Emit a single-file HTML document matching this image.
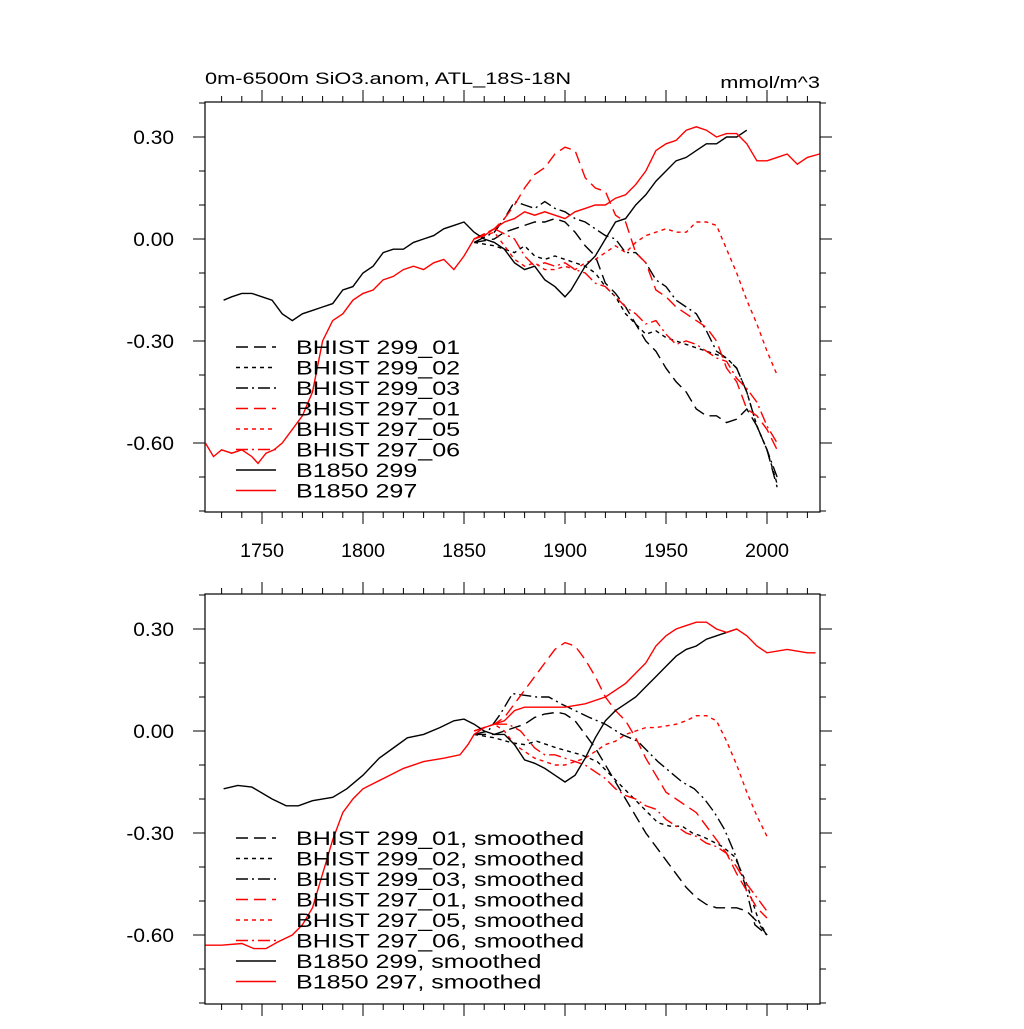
<!DOCTYPE html>
<html><head><meta charset="utf-8"><style>
body{margin:0;background:#fff}
svg text{font-family:"Liberation Sans",sans-serif}
</style></head><body>
<svg id="c" width="1024" height="1024" viewBox="0 0 1024 1024" xmlns="http://www.w3.org/2000/svg">
<text id="ttl" x="205" y="84" font-size="17">0m-6500m SiO3.anom, ATL_18S-18N</text>
<text id="unit" x="820" y="88" font-size="17" text-anchor="end">mmol/m^3</text>
</svg>
<script>
const xTicks=[1750,1800,1850,1900,1950,2000];
const yTicks=[0.3,0,-0.3,-0.6];
const yTickLabels=["0.30","0.00","-0.30","-0.60"];
const rawB299=[[1731,-0.18],[1735,-0.17],[1740,-0.16],[1745,-0.16],[1750,-0.17],[1755,-0.18],[1760,-0.22],[1765,-0.24],[1770,-0.22],[1775,-0.21],[1780,-0.2],[1785,-0.19],[1790,-0.15],[1795,-0.14],[1800,-0.1],[1805,-0.08],[1810,-0.04],[1815,-0.03],[1820,-0.03],[1825,-0.01],[1830,0.0],[1835,0.01],[1840,0.03],[1845,0.04],[1850,0.05],[1855,0.02],[1860,0.0],[1865,-0.01],[1870,-0.03],[1875,-0.07],[1880,-0.09],[1885,-0.08],[1890,-0.12],[1895,-0.14],[1900,-0.17],[1903,-0.15],[1910,-0.08],[1915,-0.05],[1920,0.0],[1925,0.05],[1930,0.06],[1935,0.1],[1940,0.13],[1945,0.17],[1950,0.2],[1955,0.23],[1960,0.24],[1965,0.26],[1970,0.28],[1975,0.28],[1980,0.3],[1985,0.3],[1990,0.32]];
const rawB297=[[1722,-0.6],[1726,-0.64],[1730,-0.62],[1735,-0.63],[1740,-0.62],[1745,-0.64],[1748,-0.66],[1752,-0.63],[1756,-0.62],[1760,-0.6],[1765,-0.56],[1770,-0.52],[1775,-0.45],[1780,-0.3],[1785,-0.24],[1790,-0.22],[1795,-0.18],[1800,-0.16],[1805,-0.15],[1810,-0.12],[1815,-0.11],[1820,-0.09],[1825,-0.08],[1830,-0.09],[1835,-0.07],[1840,-0.06],[1845,-0.09],[1850,-0.05],[1855,0.0],[1860,0.01],[1865,0.03],[1870,0.05],[1875,0.06],[1880,0.08],[1885,0.07],[1890,0.08],[1895,0.07],[1900,0.06],[1905,0.08],[1910,0.09],[1915,0.1],[1920,0.1],[1925,0.12],[1930,0.13],[1935,0.16],[1940,0.2],[1945,0.26],[1950,0.28],[1955,0.29],[1960,0.32],[1965,0.33],[1970,0.32],[1975,0.3],[1980,0.31],[1985,0.31],[1990,0.28],[1995,0.23],[2000,0.23],[2005,0.24],[2010,0.25],[2015,0.22],[2020,0.24],[2026,0.25]];
const raw297_01=[[1855,0.0],[1865,0.03],[1870,0.06],[1875,0.1],[1880,0.15],[1885,0.19],[1890,0.21],[1895,0.25],[1900,0.27],[1905,0.26],[1910,0.18],[1915,0.15],[1920,0.14],[1925,0.07],[1930,0.05],[1935,-0.04],[1940,-0.07],[1945,-0.15],[1950,-0.17],[1955,-0.2],[1960,-0.22],[1965,-0.24],[1970,-0.26],[1975,-0.3],[1980,-0.38],[1985,-0.42],[1990,-0.5],[1995,-0.52],[2000,-0.56],[2005,-0.62]];
const raw297_05=[[1855,0.0],[1865,0.02],[1870,-0.02],[1875,-0.06],[1880,-0.08],[1885,-0.07],[1890,-0.09],[1895,-0.09],[1900,-0.08],[1905,-0.09],[1910,-0.07],[1915,-0.06],[1920,-0.04],[1925,-0.02],[1930,-0.04],[1935,-0.01],[1940,0.01],[1945,0.02],[1950,0.03],[1955,0.02],[1960,0.02],[1965,0.05],[1970,0.05],[1975,0.04],[1980,-0.03],[1985,-0.1],[1990,-0.18],[1995,-0.25],[2000,-0.33],[2005,-0.4]];
const raw297_06=[[1855,0.0],[1865,0.03],[1875,0.0],[1880,-0.05],[1885,-0.08],[1890,-0.07],[1895,-0.08],[1900,-0.07],[1905,-0.09],[1910,-0.1],[1915,-0.13],[1920,-0.14],[1925,-0.17],[1930,-0.2],[1935,-0.22],[1940,-0.25],[1945,-0.24],[1950,-0.28],[1955,-0.31],[1960,-0.3],[1965,-0.31],[1970,-0.33],[1975,-0.35],[1980,-0.36],[1985,-0.41],[1990,-0.44],[1995,-0.48],[2000,-0.55],[2005,-0.6]];
const raw299_01=[[1855,-0.01],[1865,0.0],[1870,0.02],[1875,0.03],[1880,0.04],[1885,0.05],[1890,0.05],[1895,0.06],[1900,0.05],[1905,0.02],[1910,-0.02],[1915,-0.05],[1920,-0.13],[1925,-0.16],[1930,-0.2],[1935,-0.25],[1940,-0.3],[1945,-0.33],[1950,-0.38],[1955,-0.42],[1960,-0.45],[1965,-0.5],[1970,-0.52],[1975,-0.52],[1980,-0.54],[1985,-0.53],[1990,-0.5],[1995,-0.55],[2000,-0.62],[2005,-0.73]];
const raw299_02=[[1855,-0.01],[1865,-0.02],[1870,-0.03],[1875,-0.04],[1880,-0.02],[1885,-0.05],[1890,-0.06],[1895,-0.05],[1900,-0.06],[1905,-0.07],[1910,-0.08],[1915,-0.1],[1920,-0.14],[1925,-0.17],[1930,-0.22],[1935,-0.25],[1940,-0.28],[1945,-0.27],[1950,-0.29],[1955,-0.3],[1960,-0.31],[1965,-0.32],[1970,-0.33],[1975,-0.34],[1980,-0.35],[1985,-0.38],[1990,-0.45],[1995,-0.55],[2000,-0.62],[2005,-0.72]];
const raw299_03=[[1855,-0.01],[1865,0.02],[1870,0.06],[1875,0.11],[1880,0.1],[1885,0.09],[1890,0.11],[1895,0.09],[1900,0.08],[1905,0.06],[1910,0.05],[1915,0.03],[1920,0.01],[1925,0.0],[1930,-0.04],[1935,-0.04],[1940,-0.07],[1945,-0.12],[1950,-0.14],[1955,-0.18],[1960,-0.2],[1965,-0.22],[1970,-0.27],[1975,-0.33],[1980,-0.35],[1985,-0.38],[1990,-0.45],[1995,-0.55],[2000,-0.62],[2005,-0.7]];
const smB299=[[1731,-0.17],[1738,-0.16],[1745,-0.165],[1755,-0.2],[1762,-0.22],[1768,-0.22],[1775,-0.205],[1785,-0.195],[1792,-0.17],[1800,-0.13],[1808,-0.08],[1815,-0.05],[1822,-0.02],[1830,-0.01],[1838,0.01],[1845,0.03],[1850,0.035],[1855,0.02],[1860,0.0],[1865,-0.01],[1870,-0.01],[1875,-0.04],[1880,-0.085],[1885,-0.095],[1890,-0.11],[1895,-0.13],[1900,-0.15],[1905,-0.13],[1910,-0.08],[1915,-0.02],[1920,0.03],[1925,0.06],[1930,0.08],[1935,0.1],[1940,0.13],[1945,0.16],[1950,0.19],[1955,0.22],[1960,0.24],[1965,0.25],[1970,0.27],[1975,0.28],[1980,0.29],[1985,0.3]];
const smB297=[[1722,-0.63],[1730,-0.63],[1740,-0.625],[1746,-0.64],[1752,-0.64],[1758,-0.62],[1765,-0.6],[1770,-0.57],[1775,-0.52],[1780,-0.42],[1785,-0.32],[1790,-0.24],[1795,-0.2],[1800,-0.17],[1810,-0.14],[1820,-0.11],[1830,-0.09],[1840,-0.08],[1848,-0.07],[1852,-0.04],[1855,-0.01],[1860,0.01],[1870,0.03],[1875,0.06],[1880,0.07],[1890,0.07],[1900,0.07],[1910,0.08],[1920,0.1],[1930,0.14],[1940,0.2],[1945,0.25],[1950,0.28],[1955,0.3],[1960,0.31],[1965,0.32],[1970,0.32],[1975,0.3],[1980,0.29],[1985,0.3],[1990,0.28],[1995,0.25],[2000,0.23],[2010,0.24],[2020,0.23],[2024,0.23]];
const sm297_01=[[1855,0.0],[1865,0.02],[1870,0.04],[1875,0.08],[1880,0.12],[1885,0.16],[1890,0.2],[1895,0.24],[1900,0.26],[1905,0.25],[1910,0.21],[1915,0.16],[1920,0.1],[1925,0.06],[1930,0.03],[1935,-0.02],[1940,-0.08],[1945,-0.13],[1950,-0.18],[1955,-0.2],[1960,-0.22],[1965,-0.24],[1970,-0.28],[1975,-0.32],[1980,-0.36],[1985,-0.42],[1990,-0.47],[1995,-0.52],[2000,-0.55]];
const sm297_05=[[1855,0.0],[1865,0.02],[1870,0.0],[1875,-0.04],[1880,-0.06],[1885,-0.08],[1890,-0.09],[1895,-0.1],[1900,-0.1],[1905,-0.09],[1910,-0.08],[1915,-0.06],[1920,-0.04],[1925,-0.03],[1930,-0.01],[1935,0.0],[1940,0.01],[1945,0.01],[1950,0.015],[1955,0.02],[1960,0.03],[1965,0.045],[1970,0.045],[1975,0.03],[1980,-0.03],[1985,-0.1],[1990,-0.18],[1995,-0.25],[2000,-0.31]];
const sm297_06=[[1855,0.0],[1865,0.02],[1872,0.02],[1878,0.0],[1885,-0.05],[1890,-0.07],[1895,-0.07],[1900,-0.08],[1905,-0.09],[1910,-0.1],[1915,-0.12],[1920,-0.14],[1925,-0.17],[1930,-0.19],[1935,-0.2],[1940,-0.22],[1945,-0.23],[1950,-0.26],[1955,-0.28],[1960,-0.3],[1965,-0.31],[1970,-0.33],[1975,-0.34],[1980,-0.36],[1985,-0.4],[1990,-0.45],[1995,-0.49],[2000,-0.53]];
const sm299_01=[[1855,-0.01],[1865,-0.01],[1870,0.0],[1875,0.01],[1880,0.02],[1885,0.04],[1890,0.05],[1896,0.055],[1900,0.05],[1905,0.03],[1910,-0.01],[1915,-0.05],[1920,-0.1],[1925,-0.15],[1930,-0.2],[1935,-0.25],[1940,-0.3],[1945,-0.34],[1950,-0.38],[1955,-0.42],[1960,-0.46],[1965,-0.49],[1970,-0.51],[1975,-0.52],[1980,-0.52],[1985,-0.52],[1990,-0.53],[1995,-0.56],[2000,-0.6]];
const sm299_02=[[1855,-0.01],[1865,-0.02],[1874,-0.035],[1880,-0.04],[1886,-0.03],[1896,-0.05],[1902,-0.06],[1908,-0.07],[1916,-0.09],[1921,-0.12],[1926,-0.15],[1931,-0.18],[1936,-0.21],[1941,-0.24],[1946,-0.27],[1952,-0.28],[1958,-0.28],[1963,-0.3],[1968,-0.31],[1973,-0.325],[1978,-0.34],[1984,-0.37],[1990,-0.45],[1996,-0.56],[2000,-0.6]];
const sm299_03=[[1855,-0.01],[1862,0.0],[1868,0.05],[1874,0.11],[1880,0.105],[1886,0.1],[1892,0.1],[1898,0.08],[1905,0.06],[1912,0.04],[1920,0.02],[1928,-0.01],[1936,-0.03],[1941,-0.06],[1946,-0.09],[1952,-0.12],[1958,-0.15],[1964,-0.17],[1969,-0.2],[1974,-0.24],[1979,-0.29],[1984,-0.36],[1989,-0.45],[1994,-0.57],[2000,-0.6]];

const LD="12,6", SD="4,4", DD="12,4,2,4";
const topSeries=[["bhist-299-01",raw299_01,"#000",LD,"BHIST 299_01"],["bhist-299-02",raw299_02,"#000",SD,"BHIST 299_02"],["bhist-299-03",raw299_03,"#000",DD,"BHIST 299_03"],["bhist-297-01",raw297_01,"red",LD,"BHIST 297_01"],["bhist-297-05",raw297_05,"red",SD,"BHIST 297_05"],["bhist-297-06",raw297_06,"red",DD,"BHIST 297_06"],["b1850-299",rawB299,"#000","","B1850 299"],["b1850-297",rawB297,"red","","B1850 297"]];
const botSeries=[["bhist-299-01-smoothed",sm299_01,"#000",LD,"BHIST 299_01, smoothed"],["bhist-299-02-smoothed",sm299_02,"#000",SD,"BHIST 299_02, smoothed"],["bhist-299-03-smoothed",sm299_03,"#000",DD,"BHIST 299_03, smoothed"],["bhist-297-01-smoothed",sm297_01,"red",LD,"BHIST 297_01, smoothed"],["bhist-297-05-smoothed",sm297_05,"red",SD,"BHIST 297_05, smoothed"],["bhist-297-06-smoothed",sm297_06,"red",DD,"BHIST 297_06, smoothed"],["b1850-299-smoothed",smB299,"#000","","B1850 299, smoothed"],["b1850-297-smoothed",smB297,"red","","B1850 297, smoothed"]];

const svg=document.getElementById('c');
const NS="http://www.w3.org/2000/svg";
function mk(tag,at,parent){const e=document.createElementNS(NS,tag);for(const k in at)e.setAttribute(k,at[k]);(parent||svg).appendChild(e);return e;}
function widen(t,f){const w=t.getComputedTextLength();t.setAttribute('textLength',(w*f).toFixed(1));t.setAttribute('lengthAdjust','spacingAndGlyphs');}
widen(document.getElementById('ttl'),1.28);
widen(document.getElementById('unit'),1.28);
function panel(top,series,showX,pname,legTop){
  const L=205,R=820,T=top,B=top+410;
  const X=y=>262+(y-1750)*2.02;
  const Y=v=>T+35-(v-0.3)*340;
  const g=mk('g',{});
  
  
  const box=mk('rect',{x:L,y:T,width:R-L,height:B-T,fill:'none',stroke:'#000','stroke-width':1.2},g);
  
  
  for(let yr=1730;yr<=2020;yr+=10){const x=X(yr);const maj=yr%50==0;const len=maj?12:6;
    mk('line',{x1:x,x2:x,y1:T,y2:T-len,stroke:'#000','stroke-width':1},g);
    mk('line',{x1:x,x2:x,y1:B,y2:B+len,stroke:'#000','stroke-width':1},g);}
  for(let v=-0.8;v<=0.41;v+=0.1){const y=Y(v);if(y<T-0.5||y>B+0.5)continue;const maj=Math.abs(Math.round(v*10)%3)==0;const len=maj?12:6;
    mk('line',{x1:L,x2:L-len,y1:y,y2:y,stroke:'#000','stroke-width':1},g);
    mk('line',{x1:R,x2:R+len,y1:y,y2:y,stroke:'#000','stroke-width':1},g);}
  yTicks.forEach((v,i)=>{const t=mk('text',{x:174,y:Y(v)+7,'font-size':19,'text-anchor':'end'},g);t.textContent=yTickLabels[i];
    
    
    widen(t,1.1);});
  if(showX)xTicks.forEach(v=>{const t=mk('text',{x:X(v),y:B+45,'font-size':19,'text-anchor':'middle'},g);t.textContent=v;
    
    
    widen(t,1.04);});
  series.forEach(s=>{const d=s[1].map((p,i)=>(i?'L':'M')+X(p[0]).toFixed(1)+','+Y(p[1]).toFixed(1)).join('');
    const a={d:d,fill:'none',stroke:s[2],'stroke-width':1.4};if(s[3])a['stroke-dasharray']=s[3];
    const p=mk('path',a,g);
    
    });
  series.forEach((s,i)=>{const y=legTop+i*20.5;
    const a={x1:236,x2:276,y1:y,y2:y,stroke:s[2],'stroke-width':1.4};if(s[3])a['stroke-dasharray']=s[3];
    const l=mk('line',a,g);
    
    
    const t=mk('text',{x:296,y:y+7,'font-size':19},g);t.textContent=s[4];
    
    
    widen(t,1.32);});
}
panel(102,topSeries,true,'top-panel',347);
panel(594,botSeries,false,'bottom-panel',838);
</script>
</body></html>
